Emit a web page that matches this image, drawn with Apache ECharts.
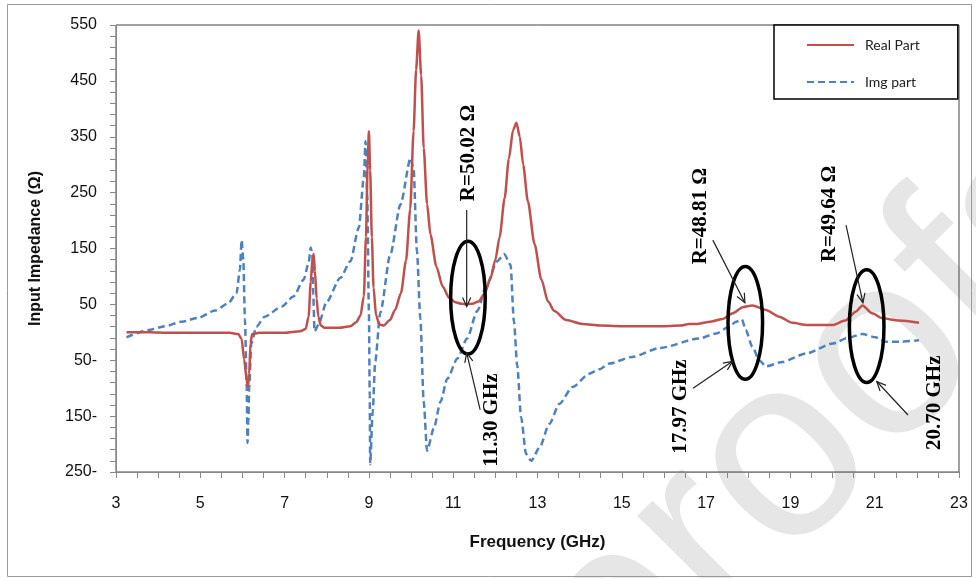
<!DOCTYPE html>
<html>
<head>
<meta charset="utf-8">
<script src="https://cdn.jsdelivr.net/npm/echarts@6/dist/echarts.min.js"></script>
<style>
html,body{margin:0;padding:0;background:#fff;}
#chart{width:976px;height:578px;}
</style>
</head>
<body>
<div id="chart"></div>
<script>
// ---- Data ----
var realFreq = [3.25,3.8,4.2,5.0,5.7,5.9,5.98,6.04,6.1,6.13,6.16,6.19,6.23,6.4,7.0,7.37,7.5,7.57,7.62,7.66,7.69,7.72,7.76,7.8,7.86,7.95,8.3,8.56,8.7,8.8,8.88,8.93,8.97,9.0,9.03,9.07,9.11,9.17,9.25,9.35,9.5,9.62,9.76,9.88,9.98,10.06,10.12,10.18,10.24,10.3,10.38,10.46,10.6,10.75,10.9,11.05,11.2,11.3,11.45,11.6,11.75,11.88,12.0,12.1,12.22,12.32,12.42,12.5,12.58,12.66,12.77,12.93,13.09,13.25,13.4,13.68,14.07,14.5,15.1,15.9,16.4,16.6,16.8,17.1,17.4,17.63,17.87,18.1,18.42,18.73,19.05,19.4,20.0,20.3,20.55,20.71,20.94,21.18,21.58,22.05];
var realPart = [0,0,-1,-1,-1,-3,-12,-48,-85,-98,-75,-20,-3,-1,-1,2,6,28,90,130,140,110,60,28,12,8,8,11,18,30,65,170,300,360,290,170,80,30,14,12,22,40,70,128,220,360,470,540,460,330,230,175,118,82,62,54,51,50,51,55,70,95,130,170,240,310,362,375,350,300,235,158,95,55,38,22,15,12,11,11,12,15,15,19,24,34,45,48,40,28,17,13,13,21,37,48,34,25,21,17];
var imgFreq = [3.25,3.77,4.16,4.56,4.95,5.35,5.66,5.86,5.94,5.98,6.02,6.06,6.1,6.12,6.14,6.16,6.21,6.33,6.53,6.93,7.21,7.45,7.57,7.62,7.66,7.68,7.71,7.8,8.0,8.32,8.56,8.76,8.88,8.92,8.96,9.0,9.02,9.03,9.09,9.15,9.27,9.51,9.75,9.99,10.06,10.14,10.22,10.3,10.38,10.54,10.7,10.86,11.1,11.33,11.57,11.8,12.04,12.21,12.36,12.44,12.52,12.61,12.73,12.85,13.05,13.28,13.52,13.83,14.23,14.47,14.7,15.25,15.9,16.84,17.24,17.55,17.71,17.85,17.94,18.1,18.26,18.42,18.81,19.37,20.0,20.4,20.71,21.02,21.26,21.58,22.05];
var imgPart = [-9,4,11,19,26,39,52,70,112,165,130,22,-98,-198,-160,-98,-20,10,28,46,64,94,124,152,139,67,2,13,55,97,127,187,277,342,247,37,-113,-236,-142,-52,35,140,229,312,292,145,25,-124,-212,-172,-124,-83,-47,-11,38,86,127,140,121,20,-60,-152,-218,-230,-206,-164,-128,-98,-74,-66,-56,-44,-28,-11,-2,10,19,23,4,-26,-50,-61,-53,-38,-20,-9,-3,-9,-17,-17,-14];
var seriesNames = ['Real Part','Img part'];
var yTickValues = [-250,-150,-50,50,150,250,350,450,550];
var yTickLabels = ['250-','150-','50-','50','150','250','350','450','550'];
var xTickLabels = ['3','5','7','9','11','13','15','17','19','21','23'];

// annotation anchors in data units [GHz, Ohm]
var ellipseCenters = [[11.35,62],[17.93,17],[20.81,11]];
var ellipseRadius = [0.41,101]; // half width in GHz, half height in Ohm
var noteTexts = ['R=50.02 \u03A9','11.30 GHz','R=48.81 \u03A9','17.97 GHz','R=49.64 \u03A9','20.70 GHz'];
var notePos = [[11.37,321],[11.92,-157],[16.88,208],[16.40,-133],[19.92,212],[22.41,-126]];
var arrowFrom = [[11.32,219],[11.64,-139],[17.16,165],[16.69,-100],[20.32,192],[21.79,-148]];
var arrowTo = [[11.32,46],[11.32,-37],[17.92,53],[17.63,-52],[20.72,53],[21.05,-88]];

function pairs(xs, ys){ return xs.map(function(x,i){ return [x, ys[i]]; }); }

var chart = echarts.init(document.getElementById('chart'), null, {renderer:'canvas'});
var axisFont = 'Liberation Sans';
var option = {
  backgroundColor: '#fff',
  animation: false,
  grid: {left:116, right:17, top:25, bottom:106, show:true, borderColor:'#444', borderWidth:1, backgroundColor:'transparent'},
  xAxis: {
    type:'value', min:3, max:23, interval:2,
    name:'Frequency (GHz)', nameLocation:'middle', nameGap:62,
    nameTextStyle:{fontFamily:axisFont, fontWeight:'bold', fontSize:17, color:'#111'},
    axisLine:{show:true, onZero:false, lineStyle:{color:'#888', width:1}},
    axisTick:{show:true, length:6, lineStyle:{color:'#888'}},
    minorTick:{show:true, splitNumber:4, length:6, lineStyle:{color:'#888'}},
    splitLine:{show:false},
    axisLabel:{margin:24, fontFamily:axisFont, fontSize:16, color:'#111',
      formatter:function(v){ var i = Math.round((v-3)/2); return xTickLabels[i] !== undefined ? xTickLabels[i] : ''; }}
  },
  yAxis: {
    type:'value', min:-250, max:550, interval:100,
    name:'Input Impedance (\u03A9)', nameLocation:'middle', nameGap:72, nameRotate:90,
    nameTextStyle:{fontFamily:axisFont, fontWeight:'bold', fontSize:16, color:'#111'},
    axisLine:{show:true, onZero:false, lineStyle:{color:'#888', width:1}},
    axisTick:{show:true, length:6, lineStyle:{color:'#888'}},
    minorTick:{show:true, splitNumber:5, length:6, lineStyle:{color:'#888'}},
    splitLine:{show:false},
    axisLabel:{margin:19, fontFamily:axisFont, fontSize:16, color:'#111',
      formatter:function(v){ var i = yTickValues.indexOf(Math.round(v)); return i>=0 ? yTickLabels[i] : ''; }}
  },
  legend: {
    orient:'vertical', left:774, top:25,
    itemWidth:47, itemHeight:14, itemGap:23,
    padding:[13,38,10,32],
    borderColor:'#000', borderWidth:1.5, backgroundColor:'#fff',
    itemStyle:{opacity:0},
    textStyle:{fontFamily:'Lato', fontSize:14, color:'#222', padding:[0,0,0,6]},
    data: seriesNames
  },
  series: [
    {name:seriesNames[0], type:'line', data:pairs(realFreq, realPart), showSymbol:false, symbol:'none',
     smooth:0.25, smoothMonotone:'x', lineStyle:{color:'#C0504D', width:2.5}, itemStyle:{color:'#C0504D'}, z:3},
    {name:seriesNames[1], type:'line', data:pairs(imgFreq, imgPart), showSymbol:false, symbol:'none',
     smooth:0.25, smoothMonotone:'x', lineStyle:{color:'#4F81BD', width:2.5, type:[7,4]}, itemStyle:{color:'#4F81BD'}, z:2}
  ]
};
chart.setOption(option);

function px(p){ return chart.convertToPixel({gridIndex:0}, p); }
var g = [];
// outer frame
g.push({type:'rect', shape:{x:7.5, y:4.5, width:964, height:572}, style:{fill:'none', stroke:'#999', lineWidth:1}, z:0, silent:true});
// watermark
g.push({type:'text', x:569, y:677, rotation:Math.PI/4, z:-1, silent:true,
  style:{text:'proofs', font:'260px "Liberation Sans"', fill:'#e6e6e6', textAlign:'left', textVerticalAlign:'middle'}});
// ellipses
ellipseCenters.forEach(function(c){
  var p = px(c), pr = px([c[0]+ellipseRadius[0], c[1]+ellipseRadius[1]]);
  g.push({type:'ellipse', shape:{cx:p[0], cy:p[1], rx:Math.abs(pr[0]-p[0]), ry:Math.abs(pr[1]-p[1])},
    style:{fill:'none', stroke:'#000', lineWidth:3.5}, z:10, silent:true});
});
// arrows
arrowFrom.forEach(function(a, i){
  var s = px(a), e = px(arrowTo[i]);
  var ang = Math.atan2(e[1]-s[1], e[0]-s[0]), L = 10, w = 0.42;
  g.push({type:'line', shape:{x1:s[0], y1:s[1], x2:e[0], y2:e[1]}, style:{stroke:'#222', lineWidth:1.2}, z:10, silent:true});
  g.push({type:'polyline', shape:{points:[[e[0]-L*Math.cos(ang-w), e[1]-L*Math.sin(ang-w)], [e[0],e[1]], [e[0]-L*Math.cos(ang+w), e[1]-L*Math.sin(ang+w)]]},
    style:{stroke:'#222', lineWidth:1.2, fill:'none'}, z:10, silent:true});
});
// rotated annotation texts
noteTexts.forEach(function(t, i){
  var p = px(notePos[i]);
  g.push({type:'text', x:p[0], y:p[1], rotation:Math.PI/2, z:10, silent:true,
    style:{text:t, font:'bold 21px "Liberation Serif"', fill:'#000', textAlign:'center', textVerticalAlign:'middle'}});
});
chart.setOption({graphic:{elements:g}});
</script>
</body>
</html>
